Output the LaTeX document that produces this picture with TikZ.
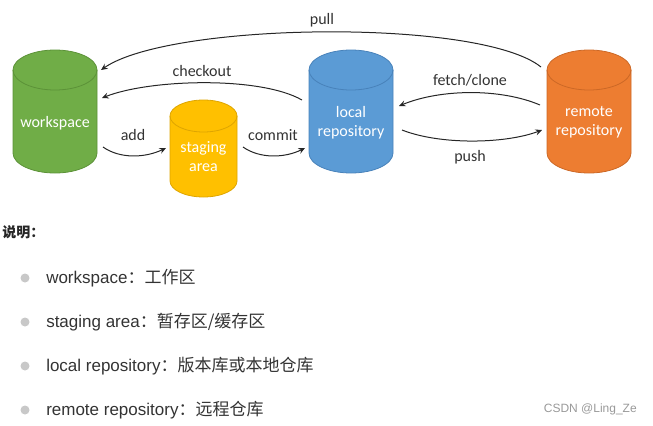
\documentclass[tikz,border=0pt]{standalone}
\usepackage{fontspec}
\setmainfont{Carlito}
\newfontfamily\listfont{Liberation Sans}
\newfontfamily\cjk{Noto Sans CJK SC}
\usetikzlibrary{arrows.meta,calc}

\definecolor{wsgreen}{RGB}{112,173,71}
\definecolor{wsgreenline}{RGB}{92,146,56}
\definecolor{stgyellow}{RGB}{255,192,0}
\definecolor{stgyellowline}{RGB}{222,165,0}
\definecolor{lrepblue}{RGB}{91,155,213}
\definecolor{lrepblueline}{RGB}{72,130,186}
\definecolor{rreporange}{RGB}{237,125,49}
\definecolor{rreporangeline}{RGB}{204,104,38}
\definecolor{arrowgray}{RGB}{38,38,38}
\definecolor{lblgray}{RGB}{51,51,51}
\definecolor{bulletgray}{RGB}{200,200,200}
\definecolor{markgray}{RGB}{153,153,153}

\tikzset{
  repo/.style={rectangle, inner sep=0pt, outer sep=0pt},
  cyltext/.style={text=white, align=center, inner sep=0pt, font=\fontsize{12pt}{14.25pt}\selectfont},
  lbl/.style={text=lblgray, inner sep=0pt, font=\fontsize{12pt}{14.4pt}\selectfont},
  flow/.style={draw=arrowgray, line width=0.75pt, -{Stealth[length=5pt,width=4.5pt,inset=1.8pt]}},
  item/.style={anchor=west, inner sep=0pt, text=lblgray, font=\listfont\fontsize{12.75pt}{15pt}\selectfont}
}

% cylinder drawn round a repo node: #1 node, #2 x radius, #3 y radius, #4 colour
\newcommand{\reposhape}[4]{%
  \path[fill=#4, draw=#4line, line width=0.6pt]
    ($(#1.north west)+(0,#3)$) -- ($(#1.south west)+(0,-#3)$)
    arc[start angle=180, end angle=0, x radius=#2, y radius=#3]
    -- ($(#1.north east)+(0,#3)$)
    arc[start angle=0, end angle=-180, x radius=#2, y radius=#3] -- cycle;
  \draw[#4line, line width=0.6pt] ($(#1.north west)+(0,#3)$)
    arc[start angle=180, end angle=0, x radius=#2, y radius=#3];
}

\begin{document}
\begin{tikzpicture}[x=0.75pt,y=0.75pt,yscale=-1]
    \useasboundingbox (0,0) rectangle (653,425);

    % Cylinders
    \node[repo, minimum width=63pt, minimum height=92.25pt] (wsp) at (55,111.5) {};
    \node[repo, minimum width=50.25pt, minimum height=72.75pt] (stg) at (203.5,148.5) {};
    \node[repo, minimum width=63pt, minimum height=92.25pt] (lrep) at (351,111.5) {};
    \node[repo, minimum width=63pt, minimum height=92.25pt] (rrep) at (589,111.5) {};
    \reposhape{wsp}{42}{20}{wsgreen}
    \reposhape{stg}{33.5}{16}{stgyellow}
    \reposhape{lrep}{42}{20}{lrepblue}
    \reposhape{rrep}{42}{20}{rreporange}

    % Cylinder labels
    \node[cyltext] (wsptext) at ($(wsp.center)+(0,11.5)$) {workspace};
    \node[cyltext] (stgtext) at ($(stg.center)+(0,8)$) {staging\\area};
    \node[cyltext] (lreptext) at ($(lrep.center)+(0,11)$) {local\\repository};
    \node[cyltext] (rreptext) at ($(rrep.center)+(0,11)$) {remote\\repository};

    % Curve Lines
    \draw[flow] ($(rrep.center)+(-48,-44.5)$) .. controls (480,18) and (170,22) .. ($(wsp.center)+(46,-41.5)$);
    \draw[flow] ($(lrep.center)+(-49,-11.5)$) .. controls (260,76) and (150,79) .. ($(wsp.center)+(47,-13.5)$);
    \draw[flow] ($(wsp.center)+(48,35.5)$) .. controls (120,159) and (145,158) .. ($(stg.center)+(-37.5,-0.5)$);
    \draw[flow] ($(stg.center)+(39.5,-1.5)$) .. controls (260,159) and (285,158) .. ($(lrep.center)+(-46,36.5)$);
    \draw[flow] ($(rrep.center)+(-49,-6.5)$) .. controls (500,88) and (440,89) .. ($(lrep.center)+(48,-5.5)$);
    \draw[flow] ($(lrep.center)+(51,18.5)$) .. controls (440,145) and (505,144) .. ($(rrep.center)+(-47,18.5)$);

    % Text Node
    \node[lbl] (pulllbl) at (322,20) {pull};
    \node[lbl] (checkoutlbl) at (202,71) {checkout};
    \node[lbl] (addlbl) at (133,135) {add};
    \node[lbl] (commitlbl) at (273,135) {commit};
    \node[lbl] (fetchlbl) at (470,80) {fetch/clone};
    \node[lbl] (pushlbl) at (470,157) {push};

    % Legend
    \node[anchor=west, inner sep=0pt, text=arrowgray, font=\cjk\bfseries\fontsize{10.5pt}{12pt}\selectfont] (legendhead) at (2,232) {说明：};
    \fill[bulletgray] (25,278) circle (4.5);
    \fill[bulletgray] (25,322) circle (4.5);
    \fill[bulletgray] (25,366) circle (4.5);
    \fill[bulletgray] (25,410) circle (4.5);
    \node[item] (itemwsp) at (46,278) {workspace{\cjk：工作区}};
    \node[item] (itemstg) at (46,322) {staging area{\cjk：暂存区/缓存区}};
    \node[item] (itemlrep) at (46,366) {local repository{\cjk：版本库或本地仓库}};
    \node[item] (itemrrep) at (46,410) {remote repository{\cjk：远程仓库}};

    % Watermark
    \node[anchor=east, inner sep=0pt, text=markgray, font=\listfont\fontsize{9pt}{11pt}\selectfont] (mark) at (637,409) {CSDN @Ling\_Ze};
\end{tikzpicture}
\end{document}
